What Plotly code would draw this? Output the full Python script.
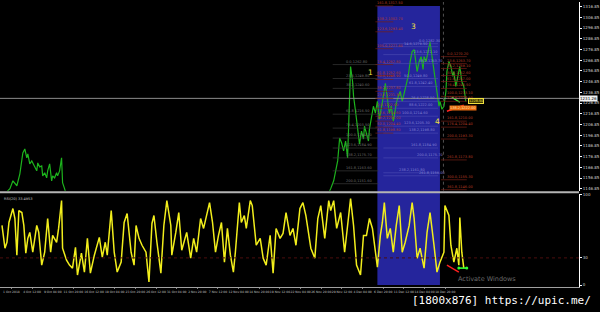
import plotly.graph_objects as go

# ---------------- data ----------------
# price series (bar position, close) - left visible segment
price_x1 = [0, 3, 7, 10, 13, 15, 17, 20, 22, 23, 25, 27, 28, 30, 32, 35, 37, 38, 40, 42,
            43, 45, 47, 48, 50, 52, 53, 55, 57, 58, 60, 62, 63, 65, 67, 70]
price_y1 = [1135.8, 1137.7, 1144.2, 1147.0, 1154.3, 1151.6, 1149.7, 1160.8, 1172.9, 1180.3,
            1184.0, 1175.7, 1179.4, 1170.1, 1172.9, 1166.4, 1163.6, 1171.0, 1167.3, 1168.2,
            1158.9, 1161.8, 1157.1, 1163.6, 1170.1, 1154.3, 1158.9, 1157.1, 1161.8, 1158.9,
            1163.6, 1175.7, 1152.5, 1147.0, 1140.4, 1131.2]
# right visible segment
price_x2 = [325, 330, 333, 336, 338, 340, 342, 344, 346, 348,
            350, 351, 352, 353, 355, 356, 358, 360, 362, 364,
            366, 367, 369, 371, 372, 374, 376, 378, 380, 382,
            384, 386, 388, 390, 392, 394, 396, 397, 399, 401,
            403, 405, 407, 409, 411, 413, 415, 417, 419, 420,
            422, 424, 426, 427, 429, 431, 433, 435, 437, 439,
            440, 442, 443, 445, 447, 449, 450, 452, 454, 456,
            457, 459, 460, 462, 463, 465, 467, 469]
price_y2 = [1131.2, 1140.4, 1147.0, 1154.3, 1163.6, 1172.9, 1194.2, 1189.6, 1182.2, 1191.4,
            1175.7, 1200.7, 1228.5, 1261.0, 1247.0, 1233.1, 1219.2, 1205.3, 1188.6, 1200.7,
            1193.3, 1205.3, 1197.9, 1191.4, 1202.5, 1211.8, 1223.9, 1217.4, 1228.5, 1211.8,
            1221.1, 1233.1, 1245.2, 1228.5, 1217.4, 1223.9, 1210.0, 1214.6, 1226.6, 1233.1,
            1237.8, 1228.5, 1235.9, 1242.4, 1251.7, 1265.6, 1274.9, 1276.7, 1261.0, 1256.3,
            1265.6, 1270.2, 1258.2, 1270.2, 1265.6, 1274.9, 1284.1, 1270.2, 1256.3, 1247.0,
            1237.8, 1223.9, 1228.5, 1221.1, 1223.9, 1237.8, 1256.3, 1265.6, 1261.0, 1251.7,
            1256.3, 1242.4, 1247.0, 1255.4, 1261.0, 1247.0, 1242.4, 1228.5]

rsi_x = [2, 5, 7, 9, 13, 15, 17, 19, 22, 24,
         26, 28, 30, 33, 37, 39, 42, 45, 48, 51,
         53, 57, 59, 62, 63, 67, 70, 73, 76, 78,
         82, 85, 88, 91, 95, 100, 103, 106, 108, 112,
         115, 118, 122, 125, 128, 132, 135, 137, 140, 143,
         147, 150, 153, 155, 158, 162, 165, 168, 172, 173,
         177, 180, 183, 186, 188, 192, 195, 198, 202, 205,
         208, 211, 214, 217, 220, 223, 226, 229, 232, 235,
         237, 241, 243, 246, 248, 252, 254, 256, 258, 262,
         265, 268, 272, 275, 278, 282, 285, 288, 292, 295,
         298, 302, 305, 308, 313, 317, 320, 323, 327, 331,
         333, 336, 339, 343, 347, 350, 353, 356, 359, 363,
         366, 369, 372, 375, 377, 380, 383, 385, 387, 390,
         393, 396, 399, 402, 405, 408, 412, 415, 417, 420,
         423, 427, 430, 433, 437, 440, 443, 447, 448, 452,
         454, 457, 460, 462, 463, 465, 467]
rsi_y = [65.9, 40.7, 47.3, 69.2, 84.6, 73.6, 33.0, 82.4, 80.2, 65.9,
         35.2, 51.6, 58.2, 36.3, 65.9, 58.2, 22.0, 36.3, 73.6, 36.3,
         54.9, 47.3, 62.6, 93.4, 40.7, 27.5, 22.0, 18.7, 41.8, 11.0,
         35.2, 14.3, 51.6, 13.2, 33.0, 52.7, 30.8, 47.3, 33.0, 82.4,
         36.3, 14.3, 25.3, 69.2, 79.1, 36.3, 22.0, 65.9, 51.6, 44.0,
         36.3, 3.3, 68.1, 76.9, 47.3, 13.2, 65.9, 93.4, 65.9, 33.0,
         58.2, 80.2, 38.5, 51.6, 58.2, 29.7, 51.6, 36.3, 73.6, 62.6,
         76.9, 91.2, 69.2, 36.3, 54.9, 69.2, 25.3, 62.6, 33.0, 14.3,
         36.3, 91.2, 69.2, 76.9, 62.6, 93.4, 87.9, 65.9, 44.0, 51.6,
         29.7, 22.0, 54.9, 13.2, 62.6, 51.6, 57.1, 80.2, 54.9, 62.6,
         44.0, 84.6, 91.2, 76.9, 40.7, 29.7, 73.6, 87.9, 51.6, 93.4,
         82.4, 93.4, 62.6, 80.2, 36.3, 65.9, 95.6, 65.9, 22.0, 11.0,
         54.9, 54.9, 73.6, 62.6, 44.0, 19.8, 54.9, 69.2, 91.2, 51.6,
         62.6, 36.3, 65.9, 87.9, 36.3, 47.3, 65.9, 91.2, 73.6, 29.7,
         40.7, 18.7, 58.2, 80.2, 44.0, 14.3, 25.3, 36.3, 87.9, 76.9,
         44.0, 25.3, 40.7, 22.0, 74.7, 36.3, 18.7]

time_labels = ["1 Oct 2018", "4 Oct 12:00", "9 Oct 04:00", "11 Oct 20:00", "16 Oct 12:00",
               "19 Oct 04:00", "23 Oct 20:00", "26 Oct 12:00", "31 Oct 04:00", "2 Nov 20:00",
               "7 Nov 12:00", "12 Nov 04:00", "14 Nov 20:00", "19 Nov 12:00", "22 Nov 04:00",
               "26 Nov 20:00", "29 Nov 12:00", "4 Dec 04:00", "6 Dec 20:00", "11 Dec 12:00",
               "14 Dec 04:00", "18 Dec 20:00"]

price_ticks = [1316.85, 1306.85, 1296.85, 1286.85, 1276.85, 1266.85, 1256.85, 1246.85, 1236.85,
               1226.85, 1216.85, 1206.85, 1196.85, 1186.85, 1176.85, 1166.85, 1156.85, 1146.85]
rsi_ticks = [0, 30, 100]
rsi_level = 30
last_price = 1231.26
rsi_last = 33.4953

# Fibonacci level sets
fibR_price = [1270.2, 1263.7, 1259.1, 1252.6, 1247.0, 1240.5, 1233.1, 1228.5,
              1210.0, 1204.4, 1193.3, 1173.8, 1155.3, 1146.0]
fibR_ratio = ["0.0", "23.6", "38.2", "50.0", "61.8", "76.4", "100.0", "123.6",
              "161.8", "176.4", "200.0", "261.8", "300.0", "361.8"]
fib_hl_price = 1222.0
fib_hl_ratio = "138.2"
fibL_price = [1317.5, 1302.7, 1293.4, 1277.6, 1262.8, 1252.6, 1248.9, 1237.8, 1231.3,
              1222.0, 1214.6, 1210.0, 1204.4, 1198.8]
fibL_ratio = ["161.8", "138.2", "123.6", "100.0", "76.4", "61.8", "50.0", "38.2", "23.6",
              "0.0", "23.6", "38.2", "50.0", "61.8"]
fibG_price = [1262.8, 1249.8, 1240.6, 1216.5, 1203.5, 1194.2, 1184.9, 1175.7, 1163.6, 1151.6]
fibG_ratio = ["0.0", "23.6", "38.2", "61.8", "76.4", "100.0", "123.6", "138.2", "161.8", "200.0"]
fibB_price = [1282.3, 1279.5, 1272.1, 1263.7, 1249.8, 1242.4, 1228.5, 1222.0, 1214.6,
              1205.3, 1198.8, 1184.9, 1175.7, 1161.8, 1159.0]
fibB_ratio = ["0.0", "14.6", "23.6", "38.2", "50.0", "61.8", "76.4", "88.6", "100.0",
              "123.6", "138.2", "161.8", "200.0", "238.2", "261.8"]
fibB_textx = [420, 405, 415, 420, 405, 410, 412, 410, 403, 405, 410, 412, 418, 400, 420]

wave_labels = ["1", "3", "4"]
wave_x = [373, 416, 441]
wave_y = [1255.5, 1298.5, 1210.0]

# ---------------- figure ----------------
GREEN = "#1db41d"
YEL = "#f2ee1c"
fig = go.Figure()

# main price line
fig.add_trace(go.Scatter(x=price_x1 + [None] + price_x2, y=price_y1 + [None] + price_y2,
                         mode="lines", line=dict(color=GREEN, width=1.2),
                         xaxis="x", yaxis="y", hoverinfo="skip", connectgaps=False))
# signal lines on price
fig.add_trace(go.Scatter(x=[455, 463], y=[1232.2, 1227.6], mode="lines",
                         line=dict(color="#40ff40", width=1.4), xaxis="x", yaxis="y"))
fig.add_trace(go.Scatter(x=[450, 467], y=[1219.2, 1224.8], mode="lines",
                         line=dict(color="#ff2020", width=1.4), xaxis="x", yaxis="y"))

# RSI
fig.add_trace(go.Scatter(x=rsi_x, y=rsi_y, mode="lines", line=dict(color=YEL, width=1.5),
                         xaxis="x2", yaxis="y2", hoverinfo="skip"))
fig.add_trace(go.Scatter(x=[450, 462], y=[22.0, 14.3], mode="lines",
                         line=dict(color="#ff2020", width=1.4), xaxis="x2", yaxis="y2"))
fig.add_trace(go.Scatter(x=[462, 470], y=[18.7, 18.7], mode="lines+markers",
                         marker=dict(size=3, color="#30ff30"),
                         line=dict(color="#30ff30", width=1.6), xaxis="x2", yaxis="y2"))

MAIN_DOM = [0.3403, 1.0]
RSI_DOM = [0.0035, 0.3299]

shapes = []
annots = []

# blue box spanning both panes
shapes.append(dict(type="rect", xref="x", yref="paper", x0=380, x1=443, y0=0.0104, y1=0.986,
                   fillcolor="#25259c", line=dict(width=0), layer="below"))
# current price line
shapes.append(dict(type="line", xref="paper", yref="y", x0=0, x1=1, y0=last_price, y1=last_price,
                   line=dict(color="#8c8c8c", width=1)))
# vertical marker line
shapes.append(dict(type="line", xref="x", yref="paper", x0=446.5, x1=446.5,
                   y0=MAIN_DOM[0], y1=1, line=dict(color="#505050", width=1, dash="dot")))
# RSI level
shapes.append(dict(type="line", xref="paper", yref="y2", x0=0, x1=1, y0=rsi_level, y1=rsi_level,
                   line=dict(color="#4c0e0e", width=1, dash="dot")))
# pane separator
shapes.append(dict(type="line", xref="paper", yref="paper", x0=0, x1=1, y0=0.335, y1=0.335,
                   line=dict(color="#b4b4b4", width=2)))

FS = 3.5
FONT = "DejaVu Sans"


def fib_set(prices, ratios, x0, x1, tx, lc, tc):
    for i, (p, r) in enumerate(zip(prices, ratios)):
        shapes.append(dict(type="line", xref="x", yref="y", x0=x0, x1=x1, y0=p, y1=p,
                           line=dict(color=lc, width=0.7)))
        txx = tx[i] if isinstance(tx, list) else tx
        annots.append(dict(x=txx, y=p, xref="x", yref="y", text=f"{r},{p:.2f}", showarrow=False,
                           xanchor="left", yanchor="bottom", yshift=-1,
                           font=dict(size=FS, color=tc, family=FONT)))


fib_set(fibG_price, fibG_ratio, 335, 381, 346, "#383838", "#6e6e6e")
fib_set(fibB_price, fibB_ratio, 386, 441, fibB_textx, "#4848b0", "#8484d4")
fib_set(fibL_price, fibL_ratio, 378, 396, 378, "#742016", "#b83c24")
fib_set(fibR_price, fibR_ratio, 444, 470, 448, "#742016", "#b83c24")

for t, x, y in zip(wave_labels, wave_x, wave_y):
    annots.append(dict(x=x, y=y, xref="x", yref="y", text=t, showarrow=False,
                       font=dict(size=7.5, color="#f0e040", family=FONT)))

# highlighted level box and yellow price tag near last bar
annots.append(dict(x=452, y=fib_hl_price, xref="x", yref="y",
                   text=f"{fib_hl_ratio},{fib_hl_price:.2f}", showarrow=False,
                   xanchor="left", bgcolor="#e86a10", borderpad=0,
                   font=dict(size=FS, color="#ffe6b0", family=FONT)))
annots.append(dict(x=471, y=1228.5, xref="x", yref="y", text="1228.50", showarrow=False,
                   xanchor="left", bordercolor="#f0e040", borderwidth=1, borderpad=0,
                   bgcolor="#403a00", font=dict(size=FS, color="#f0e040", family=FONT)))
# current price tag on right axis
annots.append(dict(x=1.0, y=last_price, xref="paper", yref="y", text=f"{last_price:.2f}",
                   showarrow=False, xanchor="left", bgcolor="#f0f0f0", borderpad=0,
                   font=dict(size=4, color="#000000", family=FONT)))
# RSI label
annots.append(dict(x=0.004, y=0.325, xref="paper", yref="paper", text=f"RSI(20) {rsi_last:.4f}",
                   showarrow=False, xanchor="left", yanchor="top",
                   font=dict(size=FS, color="#c8c8c8", family=FONT)))
# Windows watermark and image host stamp
annots.append(dict(x=0.894, y=0.0104, xref="paper", yref="paper", text="Activate Windows",
                   showarrow=False, font=dict(size=6.5, color="#6a6a6a", family=FONT)))
annots.append(dict(x=1.024, y=-0.045, xref="paper", yref="paper", text="[1800x876] https://upic.me/",
                   showarrow=False, xanchor="right", yanchor="middle",
                   font=dict(size=11, color="#ffffff", family="DejaVu Sans Mono")))

tick_pos = [11.5 + 20.8 * k for k in range(len(time_labels))]

axis_common = dict(showgrid=False, zeroline=False)
fig.update_layout(
    width=600, height=312,
    margin=dict(l=0, r=17, t=0, b=24),
    paper_bgcolor="#000000", plot_bgcolor="#000000",
    showlegend=False,
    xaxis=dict(domain=[0, 1], range=[0, 583], anchor="y", showticklabels=False,
               ticks="", showline=False, **axis_common),
    yaxis=dict(domain=MAIN_DOM, range=[1145.1, 1321.2], side="right", anchor="x",
               tickvals=price_ticks, tickformat=".2f", ticks="outside", ticklen=2,
               tickcolor="#ffffff", showline=True, linecolor="#ffffff", linewidth=1,
               tickfont=dict(size=4, color="#d0d0d0", family=FONT), **axis_common),
    xaxis2=dict(domain=[0, 1], range=[0, 583], anchor="y2", matches="x",
                tickvals=tick_pos, ticktext=time_labels, ticks="outside", ticklen=1,
                tickangle=0,
                tickcolor="#808080", showline=True, linecolor="#a0a0a0", linewidth=1,
                tickfont=dict(size=3, color="#c0c0c0", family=FONT), **axis_common),
    yaxis2=dict(domain=RSI_DOM, range=[-2.2, 101.1], side="right", anchor="x2",
                tickvals=rsi_ticks, ticktext=[str(v) for v in rsi_ticks], ticks="outside",
                ticklen=2, tickcolor="#ffffff", showline=True, linecolor="#ffffff",
                linewidth=1, tickfont=dict(size=4, color="#d0d0d0", family=FONT), **axis_common),
    shapes=shapes,
    annotations=annots,
)

fig.write_html("out.html")
